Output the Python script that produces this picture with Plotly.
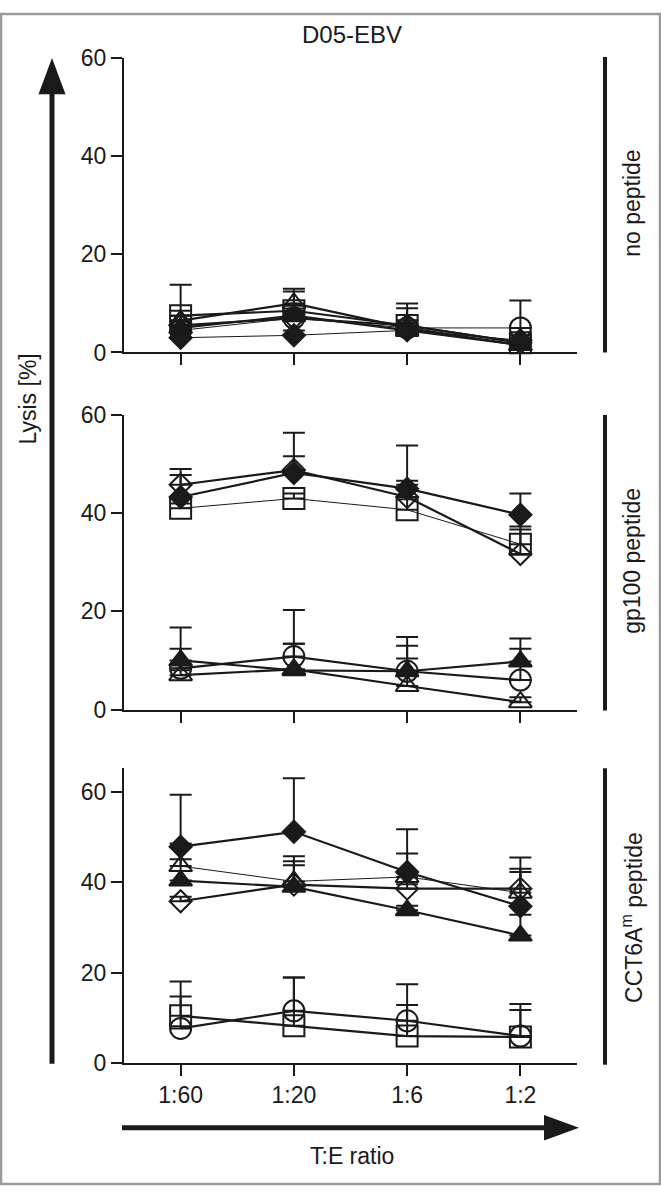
import plotly.graph_objects as go

W, H = 661, 1198

# ---------------- data ----------------
ratios = ["1:60", "1:20", "1:6", "1:2"]
y_ticks = [0, 20, 40, 60]
panel_labels = ["no peptide", "gp100 peptide", "CCT6A<sup>m</sup> peptide"]
series_names = ["open square", "open circle", "open triangle",
                "filled triangle", "open diamond", "filled diamond"]

# panel 1: no peptide
nop_square = [7.5, 8.5, 5.5, 2.0]
nop_square_err = [1.0, 1.0, 1.0, 1.0]
nop_circle = [4.5, 7.0, 5.0, 5.0]
nop_circle_err = [1.0, 1.0, 1.0, 5.6]
nop_otri = [6.5, 10.0, 5.0, 1.5]
nop_otri_err = [1.0, 3.0, 5.0, 1.0]
nop_ftri = [5.0, 7.5, 4.5, 1.5]
nop_ftri_err = [8.8, 4.9, 4.5, 1.0]
nop_odia = [5.5, 7.0, 5.5, 2.0]
nop_odia_err = [1.0, 1.0, 1.0, 1.0]
nop_fdia = [3.0, 3.5, 4.5, 2.5]
nop_fdia_err = [1.0, 1.0, 1.0, 1.0]

# panel 2: gp100 peptide
gp_square = [41.0, 43.0, 40.7, 33.7]
gp_square_err = [1.0, 1.0, 5.9, 3.6]
gp_circle = [8.4, 10.8, 7.8, 6.0]
gp_circle_err = [4.0, 9.5, 7.0, 6.4]
gp_otri = [7.0, 8.2, 4.8, 1.5]
gp_otri_err = [1.0, 5.2, 5.6, 1.0]
gp_ftri = [10.0, 8.0, 7.8, 9.8]
gp_ftri_err = [6.7, 5.4, 5.2, 4.7]
gp_odia = [45.8, 48.8, 43.3, 31.7]
gp_odia_err = [3.2, 2.8, 2.5, 5.0]
gp_fdia = [43.3, 48.2, 45.0, 39.7]
gp_fdia_err = [4.5, 8.2, 8.8, 4.3]

# panel 3: CCT6Am peptide
cct_square = [10.4, 8.2, 5.9, 5.7]
cct_square_err = [7.6, 10.7, 6.9, 6.0]
cct_circle = [7.6, 11.5, 9.3, 5.9]
cct_circle_err = [7.1, 7.4, 8.1, 7.1]
cct_otri = [43.6, 40.2, 41.2, 37.7]
cct_otri_err = [5.0, 5.6, 5.2, 7.8]
cct_ftri = [40.4, 39.0, 33.8, 28.2]
cct_ftri_err = [4.7, 5.7, 1.0, 4.6]
cct_odia = [35.8, 39.5, 38.6, 38.6]
cct_odia_err = [1.0, 4.3, 1.0, 4.4]
cct_fdia = [47.9, 51.2, 42.3, 34.7]
cct_fdia_err = [11.5, 11.9, 9.5, 7.6]

panels = [
    [(nop_square, nop_square_err), (nop_circle, nop_circle_err), (nop_otri, nop_otri_err),
     (nop_ftri, nop_ftri_err), (nop_odia, nop_odia_err), (nop_fdia, nop_fdia_err)],
    [(gp_square, gp_square_err), (gp_circle, gp_circle_err), (gp_otri, gp_otri_err),
     (gp_ftri, gp_ftri_err), (gp_odia, gp_odia_err), (gp_fdia, gp_fdia_err)],
    [(cct_square, cct_square_err), (cct_circle, cct_circle_err), (cct_otri, cct_otri_err),
     (cct_ftri, cct_ftri_err), (cct_odia, cct_odia_err), (cct_fdia, cct_fdia_err)],
]

# ---------------- styles ----------------
INK = "#1a1a1a"
FONT = "Liberation Sans, Arial, sans-serif"
FS = 23
symbols = ["square-open", "circle-open", "triangle-up-open",
           "triangle-up", "diamond-open", "diamond"]
msizes = [21, 21, 20, 20, 17, 17]
line_widths = [
    [2.2, 1.0, 2.2, 2.2, 2.2, 1.0],
    [1.0, 2.2, 2.2, 2.2, 2.2, 2.2],
    [2.2, 2.2, 1.0, 2.2, 2.2, 2.2],
]
y_ranges = [[0, 60], [0, 60], [0, 65.3]]

def px(x):
    return x / W

def py(y):
    return 1 - y / H

# panel pixel extents (top, bottom)
panel_px = [(46, 347), (411, 712), (772, 1073)]
x_dom = [px(124), px(577)]

fig = go.Figure()
xs = list(range(len(ratios)))
for p, series in enumerate(panels):
    sfx = "" if p == 0 else str(p + 1)
    for s, (vals, errs) in enumerate(series):
        fig.add_trace(go.Scatter(
            x=xs, y=vals, mode="lines+markers", name=series_names[s],
            xaxis="x" + sfx, yaxis="y" + sfx, showlegend=False, cliponaxis=False,
            line=dict(color=INK, width=line_widths[p][s]),
            marker=dict(symbol=symbols[s], size=msizes[s], color=INK,
                        line=dict(color=INK, width=2)),
            error_y=dict(type="data", array=errs, arrayminus=[float("nan")] * len(errs),
                         symmetric=False, color=INK, thickness=2, width=11),
        ))

layout = dict(
    width=W, height=H, margin=dict(l=0, r=0, t=0, b=0),
    plot_bgcolor="white", paper_bgcolor="white",
    font=dict(family=FONT, size=FS, color=INK),
)
for p in range(3):
    sfx = "" if p == 0 else str(p + 1)
    top, bot = panel_px[p]
    layout["xaxis" + sfx] = dict(
        domain=x_dom, anchor="y" + sfx, range=[-0.5, 3.5],
        tickvals=xs, ticktext=ratios, showticklabels=(p == 2),
        showline=True, linecolor=INK, linewidth=2, ticks="outside",
        ticklen=11, tickwidth=2, tickcolor=INK, showgrid=False, zeroline=False,
        tickfont=dict(family=FONT, size=FS, color=INK),
    )
    layout["yaxis" + sfx] = dict(
        domain=[py(bot), py(top)], anchor="x" + sfx, range=y_ranges[p],
        tickvals=y_ticks, showline=True, linecolor=INK, linewidth=2,
        ticks="outside", ticklen=11, tickwidth=2, tickcolor=INK,
        showgrid=False, zeroline=False,
        tickfont=dict(family=FONT, size=FS, color=INK),
    )
fig.update_layout(**layout)

shapes = []
# vertical arrow
shapes.append(dict(type="line", xref="paper", yref="paper",
                   x0=px(52), x1=px(52), y0=py(1074), y1=py(80),
                   line=dict(color=INK, width=5)))
shapes.append(dict(type="path", xref="paper", yref="paper",
                   path=f"M {px(52)} {py(46)} L {px(38.5)} {py(83)} L {px(65.5)} {py(83)} Z",
                   fillcolor=INK, line=dict(color=INK, width=0)))
# horizontal arrow
shapes.append(dict(type="line", xref="paper", yref="paper",
                   x0=px(122), x1=px(547), y0=py(1139.5), y1=py(1139.5),
                   line=dict(color=INK, width=5)))
shapes.append(dict(type="path", xref="paper", yref="paper",
                   path=f"M {px(579)} {py(1139.5)} L {px(544)} {py(1126.5)} L {px(544)} {py(1152.5)} Z",
                   fillcolor=INK, line=dict(color=INK, width=0)))
# right bars
for top, bot in [(45, 347), (411, 713), (772, 1075)]:
    shapes.append(dict(type="line", xref="paper", yref="paper",
                       x0=px(605), x1=px(605), y0=py(bot), y1=py(top),
                       line=dict(color=INK, width=4)))
# border
shapes.append(dict(type="rect", xref="paper", yref="paper",
                   x0=px(1), x1=px(W - 1), y0=py(H - 1), y1=py(1),
                   line=dict(color="#9a9a9a", width=2.5)))
fig.update_layout(shapes=shapes)

ann = []
ann.append(dict(text="D05-EBV", x=px(352), y=py(22), xref="paper", yref="paper",
                showarrow=False, xanchor="center", yanchor="middle",
                font=dict(family=FONT, size=24, color=INK)))
ann.append(dict(text="Lysis [%]", x=px(28), y=py(395), xref="paper", yref="paper",
                showarrow=False, xanchor="center", yanchor="middle", textangle=-90,
                font=dict(family=FONT, size=FS, color=INK)))
ann.append(dict(text="T:E ratio", x=px(352), y=py(1168), xref="paper", yref="paper",
                showarrow=False, xanchor="center", yanchor="middle",
                font=dict(family=FONT, size=FS, color=INK)))
for lab, yc in zip(panel_labels, [195, 560, 925]):
    ann.append(dict(text=lab, x=px(632), y=py(yc), xref="paper", yref="paper",
                    showarrow=False, xanchor="center", yanchor="middle", textangle=-90,
                    font=dict(family=FONT, size=FS, color=INK)))
fig.update_layout(annotations=ann)

fig.write_html("out.html", config={"displayModeBar": False},
               post_script="document.body.style.margin='0';document.body.style.overflow='hidden';")
